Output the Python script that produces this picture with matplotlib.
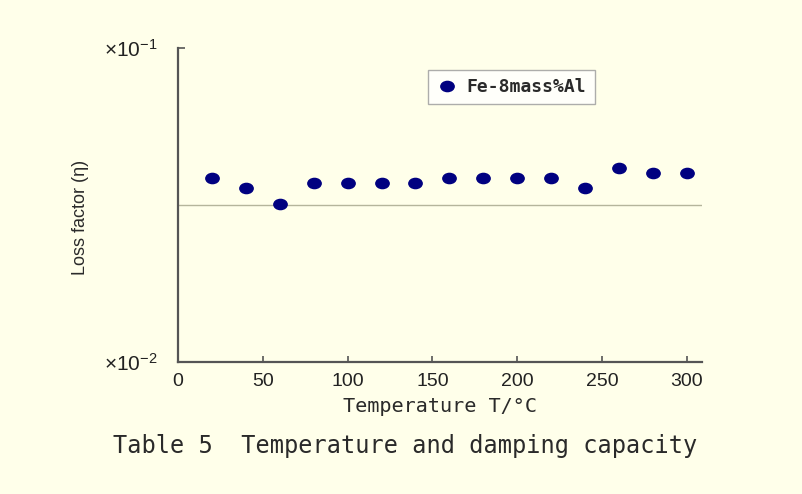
"""
Loss factor of Fe-8mass%Al against temperature (Table 5).
"""
import matplotlib
matplotlib.use("Agg")
import matplotlib.pyplot as plt
from matplotlib.markers import MarkerStyle
from matplotlib.transforms import Affine2D
from matplotlib.ticker import FixedLocator, FixedFormatter

# data
temperature = [20, 40, 60, 80, 100, 120, 140, 160, 180, 200, 220, 240, 260, 280, 300]
loss_factor = [0.0386, 0.0359, 0.0318, 0.0372, 0.0372, 0.0372, 0.0372, 0.0386,
               0.0386, 0.0386, 0.0386, 0.0358, 0.0416, 0.0401, 0.0401]
series_name = "Fe-8mass%Al"
x_ticks = [0, 50, 100, 150, 200, 250, 300]
y_ticks = [0.01, 0.1]
y_tick_labels = [r"×10$^{-2}$", r"×10$^{-1}$"]
grid_values = [0.0316]

BG = "#FFFFEA"
INK = "#2a2a2a"

plt.rcParams["mathtext.fontset"] = "custom"
plt.rcParams["mathtext.rm"] = "Liberation Sans"
plt.rcParams["mathtext.it"] = "Liberation Sans"

fig = plt.figure(figsize=(8.03, 4.94), dpi=100, facecolor=BG)
ax = fig.add_axes([0.2217, 0.2672, 0.6526, 0.6356])
ax.set_facecolor(BG)

ax.set_yscale("log")
ax.set_xlim(0, 309)
ax.set_ylim(0.01, 0.1)

# single horizontal gridline
ax.yaxis.set_minor_locator(FixedLocator(grid_values))
ax.yaxis.set_minor_formatter(FixedFormatter([""]))
ax.grid(True, which="minor", axis="y", color="#b5b59c", linewidth=1.0)
ax.tick_params(axis="y", which="minor", length=0)

ellipse = MarkerStyle("o", transform=Affine2D().scale(1.2, 0.92))
ax.plot(temperature, loss_factor, linestyle="none", marker=ellipse,
        markersize=8, color="#000080", label=series_name, zorder=3)

for side in ("top", "right"):
    ax.spines[side].set_visible(False)
for side in ("left", "bottom"):
    ax.spines[side].set_color("#555555")
    ax.spines[side].set_linewidth(1.6)

ax.set_xticks(x_ticks)
ax.tick_params(axis="x", which="major", direction="in", length=4, width=1.2,
               color="#555555", pad=8, labelsize=14, labelcolor="#222222")
ax.set_yticks(y_ticks)
ax.set_yticklabels(y_tick_labels)
ax.tick_params(axis="y", which="major", direction="in", length=5, width=1.2,
               color="#555555", pad=15, labelsize=15, labelcolor="#222222")
for lab in ax.get_xticklabels() + ax.get_yticklabels():
    lab.set_family("Liberation Sans")

ax.set_xlabel("Temperature T/°C", family="DejaVu Sans Mono", fontsize=14.5,
              color=INK, labelpad=5)
ax.set_ylabel("Loss factor (η)", family="Liberation Sans", fontsize=13,
              color=INK, labelpad=3)
ax.yaxis.set_label_coords(-0.17, 0.46)

leg = ax.legend(loc="upper left", bbox_to_anchor=(0.477, 0.93), borderaxespad=0,
                frameon=True, fancybox=False, handletextpad=0.5, handlelength=1.2,
                borderpad=0.45, prop={"family": "DejaVu Sans Mono", "size": 13,
                                      "weight": "bold"})
leg.get_frame().set_edgecolor("#999999")
leg.get_frame().set_facecolor("white")
leg.get_frame().set_linewidth(1.0)
for t in leg.get_texts():
    t.set_color(INK)

fig.text(0.505, 0.097, "Table 5  Temperature and damping capacity",
         family="DejaVu Sans Mono", fontsize=17, color=INK,
         ha="center", va="center")

fig.savefig("out.png", dpi=100, facecolor=BG)
